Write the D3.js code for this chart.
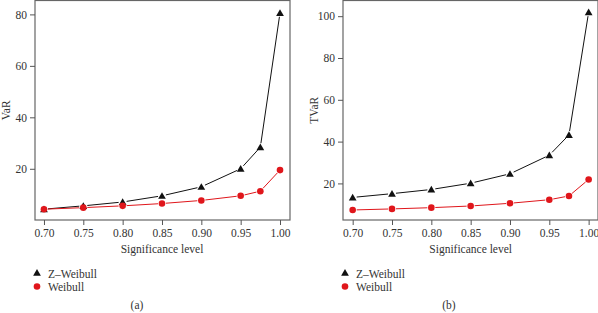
<!DOCTYPE html>
<html>
<head>
<meta charset="utf-8">
<script src="https://cdn.jsdelivr.net/npm/d3@7"></script>
<style>
  body { margin: 0; background: #fff; }
  svg { display: block; }
</style>
</head>
<body>
<div id="chart"></div>
<script>
// significance levels
const levels = [0.70, 0.75, 0.80, 0.85, 0.90, 0.95, 0.975, 1.00];
const xTicks = [0.70, 0.75, 0.80, 0.85, 0.90, 0.95, 1.00];

// (a) VaR
const varZWeibull = [4.3, 5.6, 7.1, 9.5, 13.0, 20.0, 28.4, 80.6];
const varWeibull = [4.3, 4.9, 5.6, 6.5, 7.7, 9.5, 11.3, 19.5];
const varTicks = [20, 40, 60, 80];

// (b) TVaR
const tvarZWeibull = [13.3, 15.1, 17.1, 20.1, 24.6, 33.5, 43.2, 101.9];
const tvarWeibull = [7.3, 7.8, 8.4, 9.2, 10.5, 12.2, 14.0, 21.9];
const tvarTicks = [20, 40, 60, 80, 100];

const seriesNames = ["Z\u2013Weibull", "Weibull"];
const seriesColors = ["#111", "#e0161b"];
const FONT = "'Liberation Serif', 'DejaVu Serif', serif";

const W = 598, H = 313;
const svg = d3.select("#chart").append("svg")
    .attr("width", W).attr("height", H)
    .attr("font-family", FONT);

const triangle = d3.symbol().type(d3.symbolTriangle).size(26);

function drawPanel(opts) {
    const g = svg.append("g");
    const x = d3.scaleLinear().domain(opts.xDomain).range([opts.left, opts.right]);
    const y = d3.scaleLinear().domain(opts.yDomain).range([opts.bottom, opts.top]);

    // frame
    g.append("rect")
        .attr("x", opts.left).attr("y", opts.top)
        .attr("width", opts.right - opts.left).attr("height", opts.bottom - opts.top)
        .attr("fill", "none").attr("stroke", "#666").attr("stroke-width", 1.2);

    // axes
    g.append("g")
        .attr("transform", `translate(0,${opts.bottom})`)
        .call(d3.axisBottom(x).tickValues(xTicks).tickFormat(d3.format(".2f")).tickSize(5).tickPadding(4))
        .attr("font-family", FONT).attr("font-size", 11.5)
        .call(a => a.select(".domain").remove())
        .call(a => a.selectAll("line").attr("stroke", "#555"))
        .call(a => a.selectAll("text").attr("fill", "#333"));

    g.append("g")
        .attr("transform", `translate(${opts.left},0)`)
        .call(d3.axisLeft(y).tickValues(opts.yTicks).tickSize(5).tickPadding(3))
        .attr("font-family", FONT).attr("font-size", 11.5)
        .call(a => a.select(".domain").remove())
        .call(a => a.selectAll("line").attr("stroke", "#555"))
        .call(a => a.selectAll("text").attr("fill", "#333"));

    g.append("text")
        .attr("x", (x(0.70) + x(1.00)) / 2).attr("y", 253)
        .attr("text-anchor", "middle").attr("font-size", 11.5).attr("fill", "#333")
        .text("Significance level");

    g.append("text")
        .attr("transform", `translate(${opts.left - 25},${(opts.top + opts.bottom) / 2}) rotate(-90)`)
        .attr("text-anchor", "middle").attr("font-size", 11.5).attr("fill", "#333")
        .text(opts.yLabel);

    // series, R type "b" style: segments with a gap around each point
    const gap = 4;
    [opts.z, opts.w].forEach((vals, si) => {
        const pts = levels.map((l, i) => [x(l), y(vals[i])]);
        const sg = g.append("g");
        for (let i = 0; i < pts.length - 1; i++) {
            const [x0, y0] = pts[i], [x1, y1] = pts[i + 1];
            const len = Math.hypot(x1 - x0, y1 - y0);
            if (len <= 2 * gap) continue;
            const ux = (x1 - x0) / len, uy = (y1 - y0) / len;
            sg.append("line")
                .attr("x1", x0 + ux * gap).attr("y1", y0 + uy * gap)
                .attr("x2", x1 - ux * gap).attr("y2", y1 - uy * gap)
                .attr("stroke", seriesColors[si]).attr("stroke-width", 1);
        }
        if (si === 0) {
            sg.selectAll("path.m").data(pts).join("path")
                .attr("transform", d => `translate(${d[0]},${d[1] + 0.8})`)
                .attr("d", triangle).attr("fill", seriesColors[0]);
        } else {
            sg.selectAll("circle").data(pts).join("circle")
                .attr("cx", d => d[0]).attr("cy", d => d[1]).attr("r", 3.3)
                .attr("fill", seriesColors[1]);
        }
    });

    // legend
    const lx = opts.left + 2;
    const leg = g.append("g");
    leg.append("path").attr("transform", `translate(${lx},${273.5})`)
        .attr("d", triangle).attr("fill", seriesColors[0]);
    leg.append("circle").attr("cx", lx).attr("cy", 286.5).attr("r", 3.3).attr("fill", seriesColors[1]);
    leg.append("text").attr("x", lx + 11).attr("y", 277.5).attr("font-size", 11.5).attr("fill", "#333").text(seriesNames[0]);
    leg.append("text").attr("x", lx + 11).attr("y", 290.5).attr("font-size", 11.5).attr("fill", "#333").text(seriesNames[1]);

    g.append("text")
        .attr("x", opts.captionX).attr("y", 309)
        .attr("text-anchor", "middle").attr("font-size", 11.5).attr("fill", "#333")
        .text(opts.caption);
}

drawPanel({
    left: 35, right: 290, top: 0.5, bottom: 220,
    xDomain: [0.6886, 1.0127], yDomain: [0.1, 85.4],
    yTicks: varTicks, yLabel: "VaR",
    z: varZWeibull, w: varWeibull,
    caption: "(a)", captionX: 137
});

drawPanel({
    left: 343, right: 598, top: 0.5, bottom: 220,
    xDomain: [0.6877, 1.0119], yDomain: [2.5, 107.5],
    yTicks: tvarTicks, yLabel: "TVaR",
    z: tvarZWeibull, w: tvarWeibull,
    caption: "(b)", captionX: 449
});
</script>
</body>
</html>
